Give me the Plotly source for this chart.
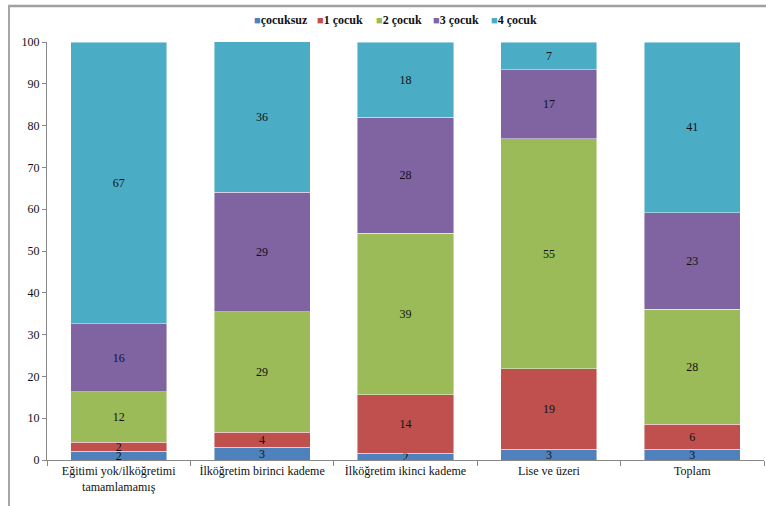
import plotly.graph_objects as go

categories = ["Eğitimi yok/ilköğretimi<br>tamamlamamış", "İlköğretim birinci kademe",
              "İlköğretim ikinci kademe", "Lise ve üzeri", "Toplam"]
series_names = ["çocuksuz", "1 çocuk", "2 çocuk", "3 çocuk", "4 çocuk"]
cocuksuz = [2.1, 3.0, 1.6, 2.6, 2.6]
cocuk1 = [2.2, 3.6, 14.0, 19.2, 5.9]
cocuk2 = [12.0, 28.9, 38.7, 55.0, 27.6]
cocuk3 = [16.3, 28.6, 27.7, 16.6, 23.1]
cocuk4 = [67.4, 36.0, 18.0, 6.6, 40.8]
colors = ["#4F81BD", "#C0504D", "#9BBB59", "#8064A2", "#4BACC6"]
y_ticks = list(range(0, 101, 10))

SERIF = "Liberation Serif, Tinos, Times New Roman, DejaVu Serif, serif"
W, H = 766, 506
ML, MR, MT, MB = 47, 2, 42, 46
pw, ph = W - ML - MR, H - MT - MB

fig = go.Figure()
for name, vals, col in zip(series_names, [cocuksuz, cocuk1, cocuk2, cocuk3, cocuk4], colors):
    fig.add_trace(go.Bar(
        name=name, x=categories, y=vals, showlegend=False,
        marker=dict(color=col, line=dict(color="rgba(255,255,255,0.55)", width=0.8)),
        texttemplate="%{y:.0f}", textposition="inside", insidetextanchor="middle",
        constraintext="none", textangle=0,
        textfont=dict(family=SERIF, size=12, color="#111"),
    ))

def px_x(p):
    return (p - ML) / pw

def px_y(p):
    return (H - MB - p) / ph

# compact legend (colored square + bold label), laid out like the original
legend_starts_px = [252, 315, 374, 431, 489]
annotations = []
for name, col, sx in zip(series_names, colors, legend_starts_px):
    annotations.append(dict(
        xref="paper", yref="paper", x=px_x(sx), y=px_y(20), xanchor="left", yanchor="middle",
        showarrow=False,
        text=f"<span style='color:{col}; font-size:11px'>■</span><b>{name}</b>",
        font=dict(family=SERIF, size=12, color="#111"),
    ))

border = dict(color="#a0a0a0", width=2.5)
fig.update_layout(
    width=W, height=H, barmode="stack", bargap=0.33,
    margin=dict(l=ML, r=MR, t=MT, b=MB, autoexpand=False),
    paper_bgcolor="white", plot_bgcolor="white",
    font=dict(family=SERIF, size=12, color="#111"),
    showlegend=False,
    annotations=annotations,
    xaxis=dict(showline=True, linecolor="#888", linewidth=1, ticks="outside", tickson="boundaries",
               ticklen=5, tickcolor="#888", showgrid=False, automargin=False,
               tickfont=dict(family=SERIF, size=12, color="#111")),
    yaxis=dict(range=[0, 100], tickvals=y_ticks, showline=True, linecolor="#888", linewidth=1,
               ticks="outside", ticklen=4, tickcolor="#888", showgrid=False, zeroline=False,
               automargin=False, tickfont=dict(family=SERIF, size=12, color="#111")),
    shapes=[
        dict(type="line", xref="paper", yref="paper", x0=px_x(8), x1=px_x(W),
             y0=px_y(6), y1=px_y(6), line=border, layer="above"),
        dict(type="line", xref="paper", yref="paper", x0=px_x(9), x1=px_x(9),
             y0=px_y(5), y1=px_y(H), line=dict(color="#a6a6a6", width=2), layer="above"),
    ],
)

fig.write_html("out.html", config={"displayModeBar": False},
               post_script="document.body.style.margin='0px';document.body.style.padding='0px';")
